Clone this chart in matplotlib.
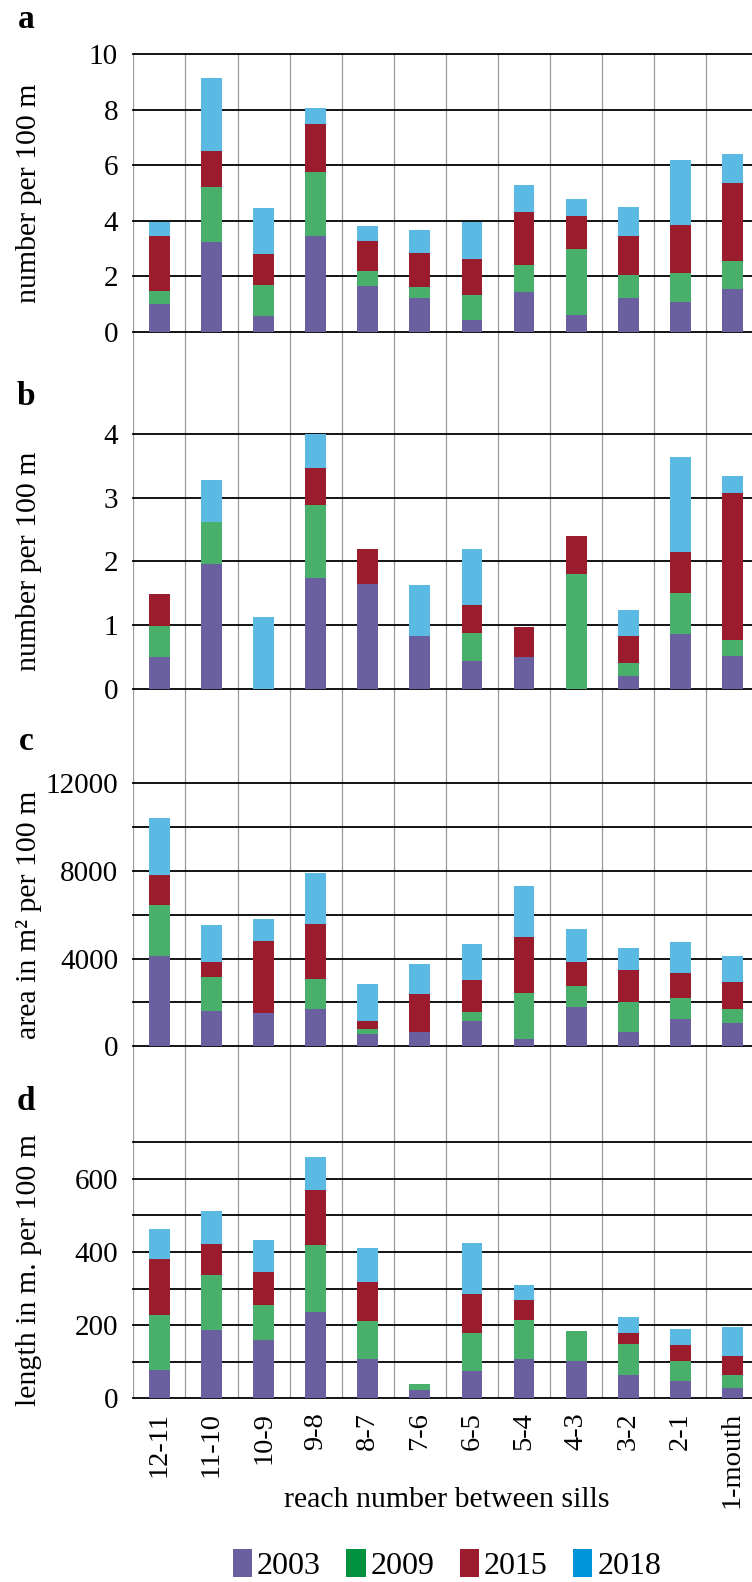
import matplotlib
matplotlib.use("Agg")
import matplotlib.pyplot as plt
from matplotlib.patches import Patch

plt.rcParams['font.family'] = ['Liberation Serif', 'DejaVu Serif']

# categories (reaches between sills)
reaches = ["12-11", "11-10", "10-9", "9-8", "8-7", "7-6", "6-5", "5-4", "4-3", "3-2", "2-1", "1-mouth"]
years = ["2003", "2009", "2015", "2018"]

# panel a - number per 100 m (segment heights per year)
a_2003 = [1.00, 3.25, 0.56, 3.46, 1.64, 1.22, 0.44, 1.44, 0.60, 1.22, 1.07, 1.54]
a_2009 = [0.49, 1.97, 1.12, 2.30, 0.56, 0.41, 0.88, 0.96, 2.40, 0.83, 1.07, 1.03]
a_2015 = [1.96, 1.28, 1.11, 1.73, 1.08, 1.20, 1.31, 1.91, 1.18, 1.42, 1.70, 2.80]
a_2018 = [0.51, 2.62, 1.66, 0.58, 0.54, 0.83, 1.34, 0.97, 0.60, 1.01, 2.35, 1.03]

# panel b - number per 100 m
b_2003 = [0.49, 1.96, 0.00, 1.73, 1.64, 0.82, 0.44, 0.49, 0.00, 0.20, 0.85, 0.51]
b_2009 = [0.50, 0.65, 0.00, 1.15, 0.00, 0.00, 0.44, 0.00, 1.80, 0.21, 0.65, 0.26]
b_2015 = [0.49, 0.00, 0.00, 0.59, 0.55, 0.00, 0.44, 0.47, 0.60, 0.41, 0.64, 2.30]
b_2018 = [0.00, 0.66, 1.12, 0.58, 0.00, 0.80, 0.88, 0.00, 0.00, 0.41, 1.50, 0.27]

# panel c - area in m2 per 100 m
c_2003 = [4130, 1625, 1500, 1690, 560, 670, 1170, 320, 1810, 650, 1230, 1050]
c_2009 = [2310, 1550, 0, 1380, 230, 0, 410, 2125, 925, 1355, 960, 665]
c_2015 = [1370, 685, 3285, 2505, 380, 1700, 1440, 2525, 1125, 1490, 1170, 1200]
c_2018 = [2580, 1655, 1015, 2325, 1670, 1380, 1630, 2320, 1500, 985, 1395, 1185]

# panel d - length in m per 100 m
d_2003 = [77, 186, 160, 236, 107, 24, 74, 107, 102, 65, 46, 27]
d_2009 = [152, 152, 94, 184, 104, 15, 104, 107, 83, 83, 55, 37]
d_2015 = [151, 85, 91, 149, 108, 0, 106, 56, 0, 31, 45, 52]
d_2018 = [82, 90, 88, 91, 91, 0, 141, 40, 0, 42, 43, 80]

bar_colors = ["#6a5f9f", "#48b06b", "#9b1d2d", "#5bbae3"]
legend_colors = ["#6a5f9f", "#00923f", "#9b1d2d", "#0094da"]

W, H = 752, 1582
fig = plt.figure(figsize=(W / 100, H / 100), dpi=100)

left = 133.3 / W
width = 12 * 52.1 / W

def fy(y):
    return 1 - y / H

# background axes with the grey vertical separators running through all panels
bg = fig.add_axes([left, fy(1398.3), width, (1398.3 - 54) / H])
bg.set_xlim(-0.5, 11.5)
bg.set_ylim(0, 1)
bg.axis("off")
for i in range(12):
    bg.axvline(i - 0.5, color="#9a9a9a", lw=0.9)

panels = [
    ("a", [a_2003, a_2009, a_2015, a_2018], 54, 332, 10, [0, 2, 4, 6, 8, 10], [0, 2, 4, 6, 8, 10], "number per 100 m", 28),
    ("b", [b_2003, b_2009, b_2015, b_2018], 434, 688.6, 4, [0, 1, 2, 3, 4], [0, 1, 2, 3, 4], "number per 100 m", 405),
    ("c", [c_2003, c_2009, c_2015, c_2018], 783, 1046.3, 12000, [0, 4000, 8000, 12000],
     [0, 2000, 4000, 6000, 8000, 10000, 12000], "area in m² per 100 m", 750),
    ("d", [d_2003, d_2009, d_2015, d_2018], 1142.3, 1398.3, 700, [0, 200, 400, 600],
     [0, 100, 200, 300, 400, 500, 600, 700], "length in m. per 100 m", 1110),
]

x = list(range(len(reaches)))
axes = []
for letter, series, top, bottom, ymax, labeled, lines, ylab, ly in panels:
    ax = fig.add_axes([left, fy(bottom), width, (bottom - top) / H])
    ax.patch.set_alpha(0)
    ax.set_xlim(-0.5, 11.5)
    ax.set_ylim(0, ymax)
    for s in ax.spines.values():
        s.set_visible(False)
    for yv in lines:
        ax.axhline(yv, color="black", lw=1.3, zorder=0.5, clip_on=False)
    base = [0] * len(reaches)
    for vals, col in zip(series, bar_colors):
        ax.bar(x, vals, bottom=base, width=0.4, color=col, zorder=2)
        base = [b + v for b, v in zip(base, vals)]
    ax.set_yticks(labeled)
    ax.set_yticklabels([str(v) for v in labeled])
    ax.tick_params(axis="y", length=0, pad=11, labelsize=21)
    ax.set_xticks(x)
    ax.tick_params(axis="x", length=0)
    ax.set_xticklabels([])
    fig.text(26 / W, fy(ly), letter, fontsize=24, fontweight="bold", ha="center", va="baseline")
    fig.text(29 / W, fy((top + bottom) / 2), ylab, fontsize=21.5, rotation=90, ha="center", va="center")
    axes.append(ax)

axd = axes[-1]
axd.set_xticklabels(reaches, rotation=90, fontsize=20.5, va="top", ha="center")
axd.tick_params(axis="x", pad=10)

fig.text(447 / W, fy(1500), "reach number between sills", fontsize=21.5, ha="center", va="center")

handles = [Patch(facecolor=c, edgecolor="none") for c in legend_colors]
fig.legend(handles, years, loc="center", bbox_to_anchor=(447 / W, fy(1565)), ncol=4, frameon=False,
           fontsize=23, handlelength=0.6, handleheight=1.0, handletextpad=0.15, columnspacing=0.8,
           borderpad=0)

fig.savefig("out.png", dpi=100)
